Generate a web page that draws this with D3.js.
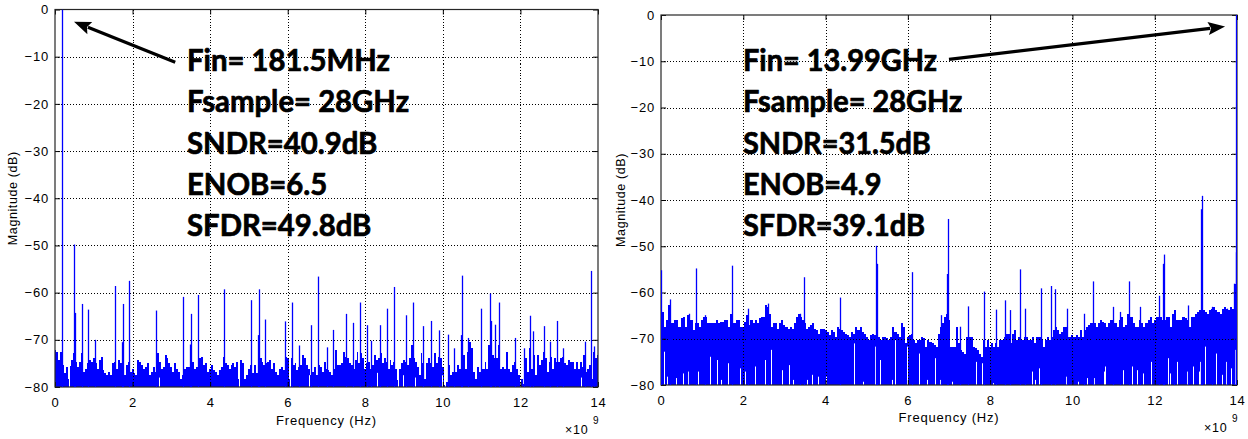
<!DOCTYPE html>
<html><head><meta charset="utf-8">
<script src="https://cdn.jsdelivr.net/npm/d3@7"></script>
<style>body{margin:0;background:#fff}svg{display:block}</style>
</head><body>
<svg id="c" width="1248" height="439"></svg>
<script>
// ---------------- data ----------------
const freqTicks = [0, 2, 4, 6, 8, 10, 12, 14];          // x 10^9 Hz
const dbTicks = [0, -10, -20, -30, -40, -50, -60, -70, -80];
const binStep = 0.05;                                    // GHz between noise bins

// noise-floor envelope (dB), one value per 0.05 GHz bin, 0 .. 14 GHz
const leftNoise = [
-72.1,-72.5,-74.3,-72.6,-75.4,-77.1,-75.7,-78.2,-75.5,-74.3,-72.9,-74.6,-75.7,-74.6,-72.9,-76.8,-76.1,-75.0,-74.3,-74.6,
-73.9,-75.0,-76.1,-74.3,-73.6,-76.4,-77.1,-77.5,-76.8,-77.5,-75.0,-74.6,-76.1,-74.3,-75.0,-74.3,-77.5,-75.4,-74.6,-76.8,
-76.1,-77.1,-77.5,-74.3,-74.6,-75.4,-76.1,-75.7,-75.0,-77.5,-76.8,-75.7,-76.8,-72.9,-74.6,-76.1,-75.7,-73.2,-73.9,-75.0,
-75.7,-76.8,-75.0,-76.1,-76.8,-78.2,-77.5,-76.1,-75.7,-75.7,-76.8,-74.6,-76.1,-75.7,-76.1,-73.9,-73.6,-75.4,-75.0,-76.8,
-76.1,-75.4,-76.4,-76.8,-77.5,-76.4,-75.7,-73.6,-75.0,-75.4,-76.1,-75.4,-75.0,-75.7,-74.6,-78.2,-74.3,-75.0,-78.2,-77.5,
-76.1,-75.4,-77.1,-75.4,-77.1,-75.4,-73.9,-74.6,-75.4,-75.0,-74.6,-74.3,-76.1,-75.0,-76.8,-77.5,-76.1,-75.7,-76.4,-73.6,
-73.9,-78.2,-73.9,-75.4,-75.0,-76.4,-75.7,-75.4,-73.2,-73.9,-75.4,-76.1,-77.5,-76.8,-75.7,-77.5,-75.4,-75.7,-76.8,-74.6,
-76.1,-76.4,-76.8,-77.5,-76.1,-72.1,-75.4,-75.4,-75.0,-72.5,-73.6,-73.9,-75.0,-75.4,-76.1,-74.3,-72.5,-75.0,-72.9,-73.9,
-76.1,-75.0,-74.6,-76.1,-75.4,-73.2,-74.3,-73.9,-72.9,-75.0,-73.9,-74.6,-76.1,-74.3,-75.4,-74.6,-76.1,-78.6,-76.1,-75.0,
-74.3,-74.6,-75.4,-73.9,-71.0,-73.9,-74.6,-75.7,-77.5,-72.9,-75.0,-78.2,-75.0,-73.9,-75.0,-75.7,-72.9,-75.0,-73.6,-73.9,
-75.7,-79.6,-78.9,-75.4,-77.5,-76.8,-73.9,-76.8,-75.4,-76.1,-73.2,-73.2,-76.1,-72.5,-70.4,-71.8,-76.8,-78.2,-75.7,-76.8,
-76.1,-76.1,-74.6,-76.1,-71.1,-68.2,-73.2,-73.9,-73.9,-71.1,-76.1,-75.7,-76.1,-72.5,-76.1,-76.8,-75.4,-74.6,-76.1,-77.5,
-77.5,-78.2,-79.3,-73.9,-76.8,-71.8,-76.1,-73.2,-77.5,-73.2,-75.4,-74.3,-72.5,-73.9,-76.8,-74.6,-73.6,-76.1,-73.9,-74.6,
-74.6,-73.9,-73.6,-75.0,-75.4,-74.3,-74.6,-74.6,-76.1,-74.6,-76.1,-74.6,-75.7,-73.2,-76.8,-76.1,-75.4,-78.2,-72.5,-73.9,
-73.2];

// spectral lines [GHz, dB]
const leftSpurs = [
[0.18,0],[0.50,-49.8],[0.52,-64.3],[0.69,-62.4],[0.86,-63.6],[1.03,-70.0],[1.55,-58.6],[1.73,-70.5],[1.75,-62.4],
[1.92,-57.5],[2.61,-63.8],[3.29,-60.9],[3.48,-71.0],[3.50,-64.5],[3.68,-60.5],[4.36,-59.3],[5.05,-61.6],[5.23,-69.0],
[5.25,-59.3],[5.42,-65.7],[5.93,-66.1],[6.10,-62.1],[6.28,-71.2],[6.59,-66.9],[6.79,-56.6],[7.00,-71.6],[7.18,-67.9],
[7.50,-64.5],[7.69,-66.4],[7.86,-62.1],[8.04,-66.9],[8.15,-70.2],[8.38,-66.9],[8.56,-63.4],[8.75,-58.8],[9.05,-64.8],
[9.24,-62.1],[9.48,-67.1],[9.70,-66.0],[9.91,-68.0],[10.13,-68.9],[10.30,-71.8],[10.47,-69.0],[10.49,-56.4],[10.66,-69.6],
[10.99,-63.4],[11.22,-60.2],[11.24,-66.0],[11.35,-66.8],[11.45,-62.1],[11.86,-69.6],[12.10,-71.8],[12.25,-64.9],
[12.32,-68.2],[12.60,-67.1],[12.77,-70.4],[12.94,-66.0],[13.10,-71.8],[13.67,-70.4],[13.82,-55.4],[13.89,-71.4]];

// white dropouts in the filled floor [GHz, dB top of gap]
const leftGaps = [
[0.35,-77.0],[2.67,-78.0],[4.75,-77.5],[6.05,-76.5],[6.56,-77.5],[8.30,-77.0],[8.85,-78.0],[8.98,-77.5],
[9.28,-78.0],[9.97,-77.5],[10.05,-78.0],[11.98,-77.5],[12.10,-78.0],[13.57,-78.0]];

const leftNotes = ["Fin= 181.5MHz", "Fsample= 28GHz", "SNDR=40.9dB", "ENOB=6.5", "SFDR=49.8dB"];
const leftArrow = [[3.10, -11.2], [0.49, -2.6]];   // tail, tip (GHz, dB)

const rightNoise = [
-64.2,-64.2,-67.4,-66.0,-62.8,-66.7,-66.7,-66.0,-66.0,-67.4,-65.6,-65.3,-67.4,-64.9,-66.0,-66.0,-68.1,-66.7,-66.7,-67.4,
-66.0,-65.3,-65.3,-66.7,-66.7,-66.7,-66.7,-66.0,-66.7,-66.3,-66.3,-66.0,-66.0,-67.4,-64.6,-66.7,-66.7,-66.0,-66.0,-67.4,
-67.4,-66.3,-64.9,-67.1,-66.0,-66.7,-66.0,-66.7,-65.6,-65.3,-65.3,-62.8,-63.1,-64.6,-67.4,-66.7,-66.7,-67.8,-66.7,-66.0,
-67.1,-67.4,-67.8,-67.4,-67.8,-66.7,-65.3,-64.6,-65.3,-66.0,-66.7,-67.8,-67.4,-67.1,-66.7,-67.8,-68.1,-68.9,-67.8,-67.8,
-68.1,-68.5,-69.2,-68.1,-68.5,-69.6,-67.4,-67.8,-68.1,-68.5,-68.9,-69.2,-69.6,-68.5,-68.9,-67.4,-68.1,-67.4,-68.5,-68.9,
-69.6,-70.3,-69.2,-68.9,-69.2,-70.3,-69.6,-70.3,-69.6,-69.6,-69.9,-70.3,-69.6,-67.4,-68.5,-68.9,-69.6,-66.7,-67.4,-71.0,
-69.6,-69.2,-68.9,-70.3,-71.0,-70.3,-70.3,-69.6,-69.9,-71.7,-70.3,-70.7,-71.0,-71.4,-71.7,-68.9,-67.4,-66.7,-65.3,-64.6,
-66.0,-71.7,-71.7,-71.7,-67.4,-71.0,-72.4,-72.8,-73.2,-69.6,-69.6,-69.6,-71.7,-72.1,-72.4,-73.2,-73.9,-70.3,-71.7,-70.3,
-71.7,-71.0,-71.7,-71.0,-71.7,-70.3,-70.3,-69.6,-68.9,-68.9,-71.0,-68.9,-68.1,-70.3,-69.6,-70.3,-70.3,-69.6,-69.6,-70.3,
-70.3,-69.6,-71.0,-69.6,-69.6,-70.3,-71.7,-70.3,-69.6,-70.3,-69.6,-68.1,-67.4,-68.1,-68.9,-68.5,-67.4,-67.4,-69.6,-69.6,
-69.2,-69.6,-69.2,-69.6,-68.1,-69.6,-68.1,-67.4,-67.1,-66.7,-66.7,-66.7,-67.4,-66.7,-66.0,-66.3,-66.7,-67.4,-66.7,-66.0,
-66.7,-66.7,-67.4,-66.0,-65.3,-67.4,-67.1,-64.6,-65.3,-65.3,-66.7,-67.4,-67.4,-66.0,-66.7,-67.4,-66.7,-66.0,-65.3,-66.7,
-66.0,-65.3,-65.3,-65.3,-66.0,-66.0,-65.3,-65.3,-67.4,-64.6,-63.8,-66.0,-66.0,-66.0,-65.3,-65.6,-66.0,-67.4,-65.3,-65.3,
-64.6,-64.2,-63.8,-63.8,-63.8,-64.2,-64.6,-63.8,-63.5,-63.1,-63.8,-64.2,-64.6,-63.5,-63.1,-63.5,-63.8,-63.1,-63.5,-58.1,
-51.6];

const rightSpurs = [
[0.00,-55.2],[0.22,-61.5],[0.67,-64.6],[0.84,-54.8],[1.07,-64.9],[1.73,-54.2],[2.12,-63.5],[2.60,-62.4],[3.38,-64.6],
[3.47,-56.7],[4.36,-61.1],[5.22,-49.9],[5.24,-53.8],[6.09,-55.6],[6.80,-64.9],[6.96,-56.0],[6.98,-44.1],[7.27,-67.4],
[7.47,-63.0],[7.86,-59.8],[8.14,-63.7],[8.36,-61.7],[8.48,-63.8],[8.73,-55.0],[8.85,-63.5],[9.23,-59.1],[9.47,-58.6],
[9.58,-59.3],[9.86,-63.5],[10.27,-64.6],[10.51,-57.6],[10.99,-63.1],[11.15,-64.2],[11.38,-57.6],[11.65,-63.1],
[12.11,-60.7],[12.21,-53.8],[12.23,-51.8],[12.46,-64.9],[12.82,-62.8],[13.12,-42.0],[13.14,-39.1],[13.39,-63.1],
[13.75,-63.5],[13.92,-58.1],[13.97,-51.3],[13.99,0]];

const rightGaps = [
[0.07,-72.8],[0.15,-78.2],[0.22,-77.1],[0.36,-78.5],[0.54,-77.5],[0.66,-77.1],[0.84,-75.7],[0.91,-77.1],[1.19,-73.9],
[1.35,-74.6],[1.45,-78.9],[1.62,-75.3],[1.73,-78.9],[1.92,-76.4],[2.04,-77.1],[2.29,-76.0],[2.53,-74.6],[2.67,-72.4],
[2.93,-76.8],[3.10,-75.7],[3.22,-78.9],[3.54,-78.9],[3.66,-77.8],[3.82,-78.2],[4.00,-78.2],[4.35,-76.8],[4.68,-71.0],
[4.92,-79.3],[5.20,-71.7],[5.32,-74.6],[5.61,-78.9],[5.69,-70.3],[5.97,-71.7],[6.26,-73.2],[6.46,-78.9],[6.66,-74.2],
[6.78,-78.9],[7.07,-79.3],[7.46,-78.2],[7.65,-75.0],[7.80,-75.3],[8.08,-79.6],[9.01,-77.1],[9.08,-78.9],[9.18,-76.4],
[9.58,-78.9],[9.85,-78.2],[10.13,-79.3],[10.35,-78.5],[10.53,-78.5],[10.76,-77.1],[10.79,-76.0],[11.24,-76.8],
[11.45,-76.0],[11.56,-76.8],[11.71,-77.5],[11.90,-75.0],[12.11,-76.0],[12.32,-74.2],[12.38,-77.5],[12.55,-75.0],
[12.78,-77.1],[12.93,-76.0],[13.07,-77.1],[13.09,-75.0],[13.23,-71.7],[13.39,-78.2],[13.49,-73.2],[13.63,-77.8],
[13.74,-75.0],[13.85,-76.4],[13.94,-72.4]];

const rightNotes = ["Fin= 13.99GHz", "Fsample= 28GHz", "SNDR=31.5dB", "ENOB=4.9", "SFDR=39.1dB"];
const rightArrow = [[7.00, -9.6], [13.71, -2.5]];

const xLabel = "Frequency (Hz)";
const yLabel = "Magnitude (dB)";

// ---------------- layout ----------------
const panels = [
  {id: "L", noise: leftNoise, spurs: leftSpurs, gaps: leftGaps, notes: leftNotes, arrow: leftArrow,
   x0: 55, x1: 598, y0: 9.5, y1: 387, yLabX: 13, xLabY: 425, noteX: 187, noteW: 203},
  {id: "R", noise: rightNoise, spurs: rightSpurs, gaps: rightGaps, notes: rightNotes, arrow: rightArrow,
   x0: 661, x1: 1237, y0: 15, y1: 385, yLabX: 621, xLabY: 422, noteX: 743, noteW: 194}
];

const BLUE = "#0000ff";
const svg = d3.select("#c");
const tickFont = "'Liberation Sans', Arial, Helvetica, sans-serif";

function styleAxis(s) {
  s.select(".domain").remove();
  s.selectAll("line").attr("stroke", "#000");
  s.selectAll("text").attr("font-family", tickFont).attr("font-size", 13)
    .attr("letter-spacing", 0.8).attr("fill", "#000");
}

panels.forEach(p => {
  const x = d3.scaleLinear().domain([0, 14]).range([p.x0, p.x1]);
  const y = d3.scaleLinear().domain([-80, 0]).range([p.y1, p.y0]);
  const px = f => Math.min(Math.round(x(f)), Math.floor(p.x1) - 1) + 0.5;
  const g = svg.append("g");

  const clipId = "clip" + p.id;
  svg.append("clipPath").attr("id", clipId).append("rect")
    .attr("x", p.x0).attr("y", p.y0).attr("width", p.x1 - p.x0).attr("height", p.y1 - p.y0 + 1);
  const data = g.append("g").attr("clip-path", `url(#${clipId})`);

  // noise floor
  const pts = p.noise.map((v, i) => ({f: i * binStep, v}));
  data.append("path").datum(pts)
    .attr("d", d3.area().x(d => x(d.f)).y0(y(-80)).y1(d => y(d.v)).curve(d3.curveStep))
    .attr("fill", BLUE).attr("shape-rendering", "crispEdges");

  // dropouts
  data.selectAll("line.gap").data(p.gaps).join("line").attr("class", "gap")
    .attr("x1", d => px(d[0])).attr("x2", d => px(d[0]))
    .attr("y1", y(-80)).attr("y2", d => y(d[1]))
    .attr("stroke", "#fff").attr("stroke-width", 1);

  // grid
  const grid = g.append("g").attr("stroke", "#000").attr("stroke-width", 1)
    .attr("stroke-dasharray", "1,2").attr("shape-rendering", "crispEdges");
  grid.selectAll("line.v").data(freqTicks.filter(t => t > 0 && t < 14)).join("line")
    .attr("x1", d => Math.round(x(d)) + 0.5).attr("x2", d => Math.round(x(d)) + 0.5)
    .attr("y1", p.y0).attr("y2", p.y1);
  grid.selectAll("line.h").data(dbTicks.filter(t => t > -80 && t < 0)).join("line")
    .attr("y1", d => Math.round(y(d)) + 0.5).attr("y2", d => Math.round(y(d)) + 0.5)
    .attr("x1", p.x0).attr("x2", p.x1);

  // axes
  g.append("g").attr("transform", `translate(0,${p.y1})`)
    .call(d3.axisBottom(x).tickValues(freqTicks).tickFormat(d3.format("d"))
      .tickSizeInner(-5).tickSizeOuter(0).tickPadding(10.5)).call(styleAxis);
  g.append("g").attr("transform", `translate(0,${p.y0})`)
    .call(d3.axisTop(x).tickValues(freqTicks).tickFormat("").tickSizeInner(-5).tickSizeOuter(0)).call(styleAxis);
  g.append("g").attr("transform", `translate(${p.x0},0)`)
    .call(d3.axisLeft(y).tickValues(dbTicks).tickFormat(d3.format("d"))
      .tickSizeInner(-5).tickSizeOuter(0).tickPadding(6)).call(styleAxis);
  g.append("g").attr("transform", `translate(${p.x1},0)`)
    .call(d3.axisRight(y).tickValues(dbTicks).tickFormat("").tickSizeInner(-5).tickSizeOuter(0)).call(styleAxis);

  // frame
  g.append("rect").attr("x", p.x0).attr("y", p.y0).attr("width", p.x1 - p.x0).attr("height", p.y1 - p.y0)
    .attr("fill", "none").attr("stroke", "#262626").attr("stroke-width", 1.2);

  // spectral lines (drawn above the frame so the tone at the band edge stays visible)
  const spurG = g.append("g").attr("clip-path", `url(#${clipId})`);
  spurG.selectAll("line.spur").data(p.spurs).join("line").attr("class", "spur")
    .attr("x1", d => px(d[0])).attr("x2", d => px(d[0]))
    .attr("y1", y(-80)).attr("y2", d => y(d[1]))
    .attr("stroke", BLUE).attr("stroke-width", 1.3);

  // axis labels
  g.append("text").attr("x", (p.x0 + p.x1) / 2).attr("y", p.xLabY).attr("text-anchor", "middle")
    .attr("font-family", tickFont).attr("font-size", 13).attr("letter-spacing", 0.8).text(xLabel);
  g.append("text").attr("transform", `translate(${p.yLabX + 4},${(p.y0 + p.y1) / 2}) rotate(-90)`)
    .attr("text-anchor", "middle").attr("font-family", tickFont).attr("font-size", 12.5)
    .attr("letter-spacing", 0.6).text(yLabel);
  const ex = g.append("text").attr("font-family", tickFont).attr("fill", "#000");
  ex.append("tspan").attr("x", p.x1 - 33).attr("y", p.y1 + 47).attr("font-size", 12.5)
    .attr("letter-spacing", 0.8).text("\u00d710");
  ex.append("tspan").attr("x", p.x1 - 5).attr("y", p.y1 + 37).attr("font-size", 10).text("9");

  // annotation
  const notes = g.append("g").attr("font-family", "Lato, 'Open Sans', sans-serif")
    .attr("font-weight", 700).attr("font-size", 30).attr("fill", "#000")
    .attr("stroke", "#000").attr("stroke-width", 0.7).attr("stroke-linejoin", "round");
  const lines = notes.selectAll("text").data(p.notes).join("text")
    .attr("x", 0).attr("y", (d, i) => 71 + i * 41.3).text(d => d);
  const w = lines.node().getComputedTextLength();
  notes.attr("transform", `translate(${p.noteX},0) scale(${p.noteW / w},1)`);

  // arrow
  const [t0, t1] = p.arrow;
  const ax0 = x(t0[0]), ay0 = y(t0[1]), ax1 = x(t1[0]), ay1 = y(t1[1]);
  const L = Math.hypot(ax1 - ax0, ay1 - ay0), ux = (ax1 - ax0) / L, uy = (ay1 - ay0) / L;
  const hl = 17, hw = 6.5;
  const bx = ax1 - ux * hl, by = ay1 - uy * hl;
  g.append("line").attr("x1", ax0).attr("y1", ay0).attr("x2", bx + ux * 2).attr("y2", by + uy * 2)
    .attr("stroke", "#000").attr("stroke-width", 3.2);
  g.append("path").attr("d", `M${ax1},${ay1}L${bx - uy * hw},${by + ux * hw}L${bx + ux * 3},${by + uy * 3}L${bx + uy * hw},${by - ux * hw}Z`)
    .attr("fill", "#000");
});
</script>
</body></html>
